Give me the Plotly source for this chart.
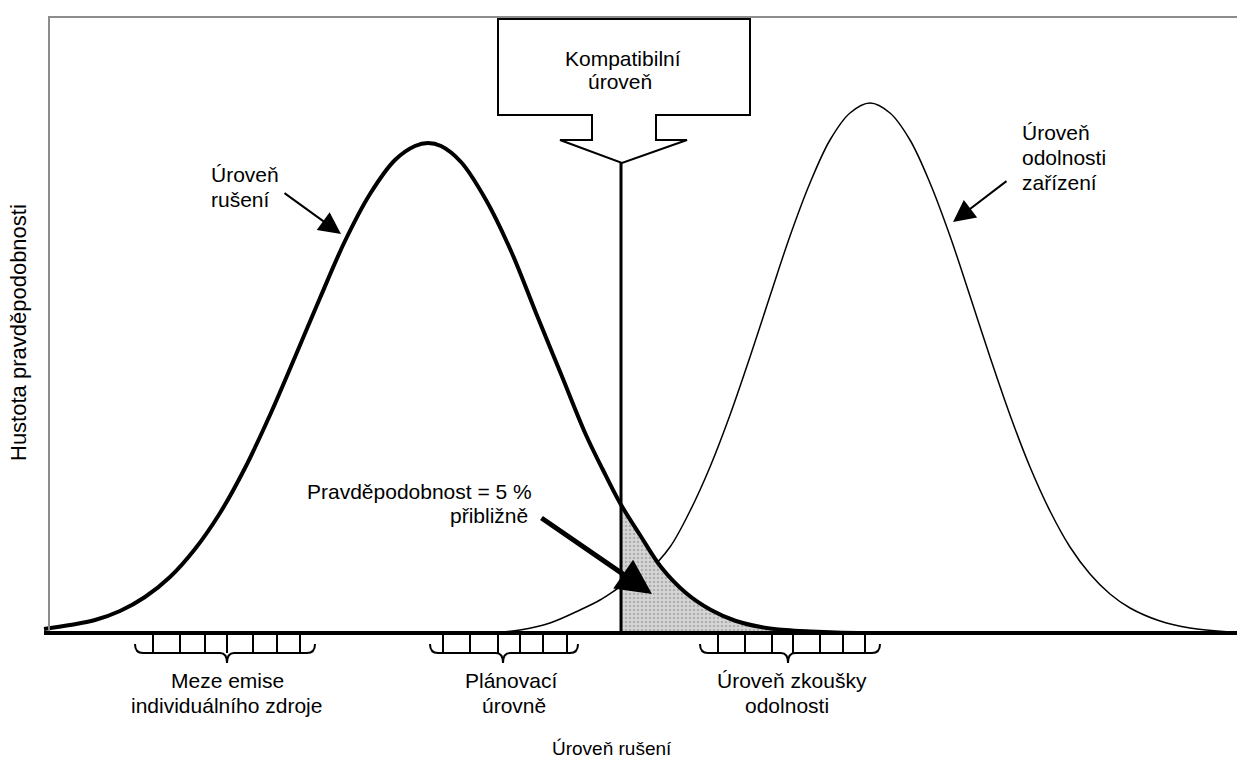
import plotly.graph_objects as go

# ---- data (x: disturbance level, y: probability density, arbitrary units) ----
dist_x = [44, 70, 95, 120, 145, 170, 195, 220, 245, 270, 295, 320, 345, 370, 395, 415, 428,
          441, 461, 486, 511, 536, 561, 586, 603, 620, 640, 661, 686, 711, 736, 761, 786, 811, 836, 870]
dist_y = [4, 8, 13, 22, 36, 56, 84, 120, 165, 218, 276, 335, 392, 439, 473, 487, 490,
          487, 471, 433, 382, 320, 259, 198, 163, 130, 98, 66, 40, 23, 12, 6, 3, 1.5, 0.5, 0]

imm_x = [500, 520, 550, 580, 600, 620, 630, 650, 670, 690, 710, 730, 750, 770, 790, 810, 830, 850, 870,
         890, 910, 930, 950, 970, 990, 1010, 1030, 1050, 1070, 1090, 1110, 1130, 1160, 1190, 1230]
imm_y = [1, 3, 10, 23, 33, 46, 52, 64, 86, 122, 166, 218, 276, 337, 397, 450, 493, 520, 530,
         520, 493, 450, 397, 337, 276, 218, 166, 122, 86, 59, 39, 25, 12, 5, 1]

compat_level = 621
compat_top = 470

emission_ticks = [153, 180, 205, 227, 253, 277, 300]
planning_ticks = [443, 470, 498, 520, 543, 567]
immunity_ticks = [718, 745, 772, 793, 820, 843, 865]
brackets = [(135, 315, 227, emission_ticks), (430, 578, 503, planning_ticks), (700, 880, 788, immunity_ticks)]

FONT = "Arial, Liberation Sans, sans-serif"

fig = go.Figure()

# immunity level curve (thin)
fig.add_trace(go.Scatter(x=imm_x, y=imm_y, mode="lines", line=dict(color="black", width=1.5, shape="spline"),
                         hoverinfo="skip"))

# shaded overlap area (disturbance curve beyond the compatibility level)
shade_x = [x for x in dist_x if x >= 620]
shade_y = [y for x, y in zip(dist_x, dist_y) if x >= 620]
fig.add_trace(go.Scatter(x=shade_x, y=shade_y, mode="lines", line=dict(width=0, shape="spline"),
                         fill="tozeroy", fillcolor="#d2d2d2",
                         fillpattern=dict(shape=".", bgcolor="#d6d6d6", fgcolor="#8a8a8a", size=4, solidity=0.35),
                         hoverinfo="skip"))

# disturbance level curve (thick)
fig.add_trace(go.Scatter(x=dist_x, y=dist_y, mode="lines", line=dict(color="black", width=4, shape="spline"),
                         hoverinfo="skip"))

# compatibility level
fig.add_trace(go.Scatter(x=[compat_level, compat_level], y=[0, compat_top], mode="lines",
                         line=dict(color="black", width=3), hoverinfo="skip"))

shapes = []
# frame
shapes.append(dict(type="line", x0=49, x1=49, y0=0, y1=617, line=dict(color="#8c8c8c", width=2)))
shapes.append(dict(type="line", x0=49, x1=1237, y0=616, y1=616, line=dict(color="#8c8c8c", width=2)))
# x axis
shapes.append(dict(type="line", x0=44, x1=1237, y0=0, y1=0, line=dict(color="black", width=4)))
# callout box
callout = ("M 498,614 L 750,614 L 750,518 L 656,518 L 656,493 L 687,493 L 622,470 "
           "L 560,493 L 592,493 L 592,518 L 498,518 Z")
shapes.append(dict(type="path", path=callout, fillcolor="white", line=dict(color="black", width=2)))

# brackets
for x0, x1, xc, ticks in brackets:
    for t in ticks:
        shapes.append(dict(type="line", x0=t, x1=t, y0=0, y1=-20, line=dict(color="black", width=2)))
    p = (f"M {x0},-11 Q {x0},-20 {x0+8},-20 L {xc-7},-20 Q {xc},-20 {xc},-30 "
         f"Q {xc},-20 {xc+7},-20 L {x1-8},-20 Q {x1},-20 {x1},-11")
    shapes.append(dict(type="path", path=p, line=dict(color="black", width=2)))

ann = []
def txt(x, y, s, xanchor="center", size=21, angle=0):
    ann.append(dict(x=x, y=y, text=s, showarrow=False, xanchor=xanchor, yanchor="middle",
                    textangle=angle, font=dict(family=FONT, size=size, color="black")))

txt(623, 575, "Kompatibilní")
txt(620, 552, "úroveň")
txt(209, 459, "Úroveň", "left")
txt(209, 434, "rušení", "left")
txt(1020, 501, "Úroveň", "left")
txt(1020, 476, "odolnosti", "left")
txt(1020, 451, "zařízení", "left")
txt(305, 142, "Pravděpodobnost = 5 %", "left")
txt(530, 118, "přibližně", "right")
txt(227, -47, "Meze emise")
txt(226, -72, "individuálního zdroje")
txt(511, -47, "Plánovací")
txt(514, -72, "úrovně")
txt(792, -47, "Úroveň zkoušky")
txt(787, -72, "odolnosti")
txt(612, -115, "Úroveň rušení", size=19)
txt(18, 300, "Hustota pravděpodobnosti", size=22, angle=-90)

def arrow(x, y, ax, ay, width, size):
    ann.append(dict(x=x, y=y, ax=ax, ay=ay, xref="x", yref="y", axref="x", ayref="y", text="",
                    showarrow=True, arrowhead=2, arrowsize=size, arrowwidth=width, arrowcolor="black"))

arrow(341, 399, 283, 441, 2, 2.2)
arrow(953, 411, 1008, 453, 2, 2.2)
arrow(652, 39, 540, 116, 5, 1.4)

fig.update_layout(
    width=1241, height=767, margin=dict(l=0, r=0, t=0, b=0),
    paper_bgcolor="white", plot_bgcolor="white", showlegend=False,
    xaxis=dict(range=[0, 1241], visible=False, fixedrange=True),
    yaxis=dict(range=[-134, 633], visible=False, fixedrange=True),
    shapes=shapes, annotations=ann,
)

fig.write_html("out.html", config={"displayModeBar": False},
               post_script="document.body.style.margin='0';")
